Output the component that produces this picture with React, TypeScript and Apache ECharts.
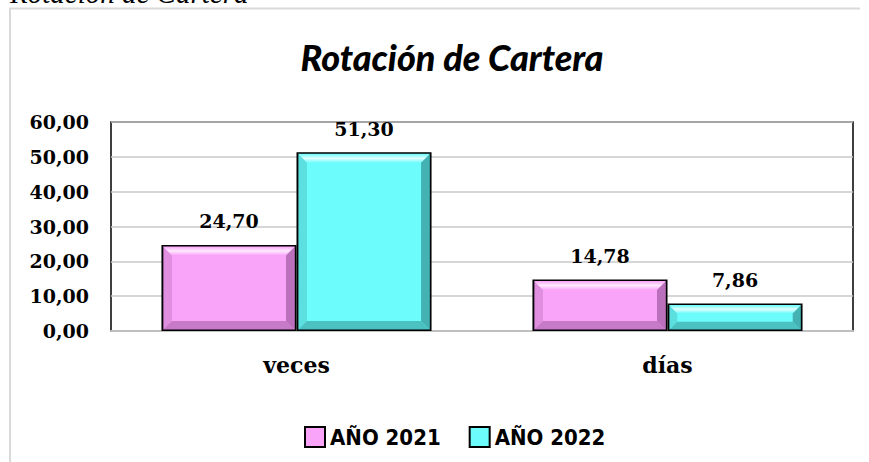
import React, { useEffect, useRef } from "react";
import * as echarts from "echarts";

const categories = ["veces", "días"];
const serie2021 = [24.7, 14.78];
const serie2022 = [51.3, 7.86];
const seriesNames = ["AÑO 2021", "AÑO 2022"];
const yMin = 0;
const yMax = 60;
const yInterval = 10;

const fmt = (v: number) => v.toFixed(2).replace(".", ",");

const palette = [
  { base: "#F9A3F9", light: "#FEEAFE", dark: "#A55FA5" },
  { base: "#6CFCFC", light: "#E0FFFF", dark: "#379A9A" },
];

export default function App() {
  const ref = useRef<HTMLDivElement>(null);
  useEffect(() => {
    if (!ref.current) return;
    const chart = echarts.init(ref.current, undefined, { renderer: "svg" });
    const barFrac = 0.364;
    const bevelData: number[][] = [];
    [serie2021, serie2022].forEach((arr, s) =>
      arr.forEach((v, i) => bevelData.push([i, v, s]))
    );
    const serifFont = "'DejaVu Serif', 'Liberation Serif', serif";
    chart.setOption({
      animation: false,
      backgroundColor: "#ffffff",
      title: {
        text: "Rotación de Cartera",
        left: 447,
        textAlign: "center",
        top: 34,
        textStyle: {
          fontFamily: "Lato, 'Noto Sans', sans-serif",
          fontWeight: 900,
          fontStyle: "italic",
          fontSize: 36,
          color: "#000",
        },
      },
      graphic: [
        {
          type: "text",
          left: 10,
          top: -22,
          style: {
            text: "Rotación de Cartera",
            font: "italic 29px 'Liberation Serif', serif",
            fill: "#000",
          },
        },
        {
          type: "polyline",
          shape: { points: [[10, 462], [10, 8.5], [860, 8.5]] },
          style: { stroke: "#d9d9d9", lineWidth: 2, fill: "none" },
        },
      ],
      legend: {
        data: seriesNames,
        left: 299,
        top: 421,
        icon: "rect",
        itemWidth: 20,
        itemHeight: 20,
        itemGap: 28,
        textStyle: {
          fontFamily: "'Liberation Sans Narrow', 'DejaVu Sans Condensed', 'Roboto Condensed', sans-serif",
          fontWeight: "bold",
          fontSize: 22,
          color: "#000",
        },
      },
      grid: {
        left: 111,
        top: 122,
        right: 16,
        bottom: 131,
        show: true,
        borderColor: "#000",
        borderWidth: 1.5,
        backgroundColor: "#fff",
      },
      xAxis: {
        type: "category",
        data: categories,
        axisTick: { show: false },
        axisLine: { lineStyle: { color: "#bfbfbf", width: 2 }, z: 5 },
        axisLabel: {
          fontFamily: serifFont,
          fontWeight: "bold",
          fontSize: 22,
          color: "#000",
          margin: 23,
        },
      },
      yAxis: {
        type: "value",
        min: yMin,
        max: yMax,
        interval: yInterval,
        axisLine: { show: false },
        axisTick: { show: false },
        splitLine: { lineStyle: { color: "#c8c8c8", width: 1.5 } },
        axisLabel: {
          formatter: (v: number) => fmt(v),
          fontFamily: serifFont,
          fontWeight: "bold",
          fontSize: 19,
          color: "#000",
          margin: 22,
        },
      },
      series: [
        ...[serie2021, serie2022].map((arr, s) => ({
          type: "bar",
          name: seriesNames[s],
          data: arr,
          barWidth: "36.4%",
          barGap: "0%",
          itemStyle: {
            color: palette[s].base,
            borderColor: "#000",
            borderWidth: 2,
          },
          label: {
            show: true,
            position: "top",
            distance: 14,
            formatter: (p: any) => fmt(p.value),
            fontFamily: serifFont,
            fontWeight: "bold",
            fontSize: 19,
            color: "#000",
          },
          z: 2,
        })),
        {
          type: "custom",
          data: bevelData,
          z: 3,
          silent: true,
          renderItem: (params: any, api: any) => {
            const cat = api.value(0);
            const val = api.value(1);
            const s = api.value(2);
            const top = api.coord([cat, val]);
            const base = api.coord([cat, 0]);
            const bw = api.size([1, 0])[0] * barFrac;
            const x0 = top[0] + (s === 0 ? -bw : 0) + 1.5;
            const x1 = top[0] + (s === 0 ? 0 : bw) - 1.5;
            const y0 = top[1] + 1.5;
            const y1 = base[1] - 1;
            const d = Math.min(9, (y1 - y0) / 3, (x1 - x0) / 3);
            const pal = palette[s];
            return {
              type: "group",
              children: [
                {
                  type: "polygon",
                  shape: { points: [[x0, y0], [x1, y0], [x1 - d, y0 + d], [x0 + d, y0 + d]] },
                  style: {
                    fill: new echarts.graphic.LinearGradient(0, 0, 0, 1, [
                      { offset: 0, color: pal.base },
                      { offset: 0.5, color: pal.light },
                      { offset: 1, color: pal.base },
                    ]),
                  },
                },
                {
                  type: "polygon",
                  shape: { points: [[x1, y0], [x1, y1], [x1 - d, y1 - d], [x1 - d, y0 + d]] },
                  style: { fill: pal.dark, opacity: 0.75 },
                },
                {
                  type: "polygon",
                  shape: { points: [[x0, y1], [x1, y1], [x1 - d, y1 - d], [x0 + d, y1 - d]] },
                  style: { fill: pal.dark, opacity: 0.6 },
                },
                {
                  type: "polygon",
                  shape: { points: [[x0, y0], [x0 + d, y0 + d], [x0 + d, y1 - d], [x0, y1]] },
                  style: { fill: pal.dark, opacity: 0.3 },
                },
              ],
            };
          },
        },
      ],
    });
    return () => chart.dispose();
  }, []);
  return (
    <div
      ref={ref}
      style={{ position: "fixed", left: 0, top: 0, width: 869, height: 462 }}
    />
  );
}
